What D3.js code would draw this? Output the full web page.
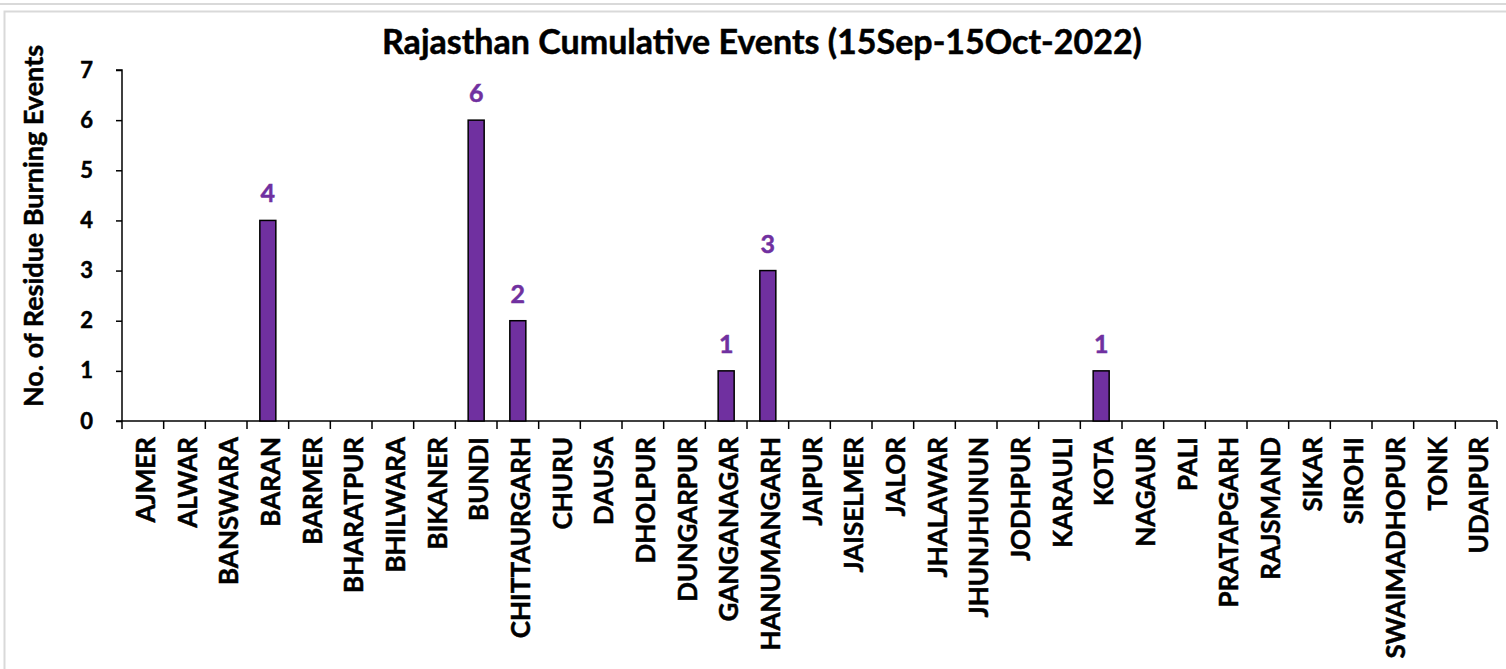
<!DOCTYPE html>
<html>
<head>
<meta charset="utf-8">
<script src="https://cdn.jsdelivr.net/npm/d3@7"></script>
<style>
  body { margin: 0; background: #fff; }
  svg { display: block; font-family: Lato, "Open Sans", sans-serif; font-weight: bold; }
  text { stroke-width: 0.5px; }
</style>
</head>
<body>
<div id="chart"></div>
<script>
const districts = ["AJMER", "ALWAR", "BANSWARA", "BARAN", "BARMER", "BHARATPUR", "BHILWARA",
  "BIKANER", "BUNDI", "CHITTAURGARH", "CHURU", "DAUSA", "DHOLPUR", "DUNGARPUR", "GANGANAGAR",
  "HANUMANGARH", "JAIPUR", "JAISELMER", "JALOR", "JHALAWAR", "JHUNJHUNUN", "JODHPUR", "KARAULI",
  "KOTA", "NAGAUR", "PALI", "PRATAPGARH", "RAJSMAND", "SIKAR", "SIROHI", "SWAIMADHOPUR", "TONK", "UDAIPUR"];
const events = [0, 0, 0, 4, 0, 0, 0, 0, 6, 2, 0, 0, 0, 0, 1, 3, 0, 0, 0, 0, 0, 0, 0, 1, 0, 0, 0, 0, 0, 0, 0, 0, 0];
const yTicks = [0, 1, 2, 3, 4, 5, 6, 7];

const width = 1506, height = 669;
const plotLeft = 122, plotRight = 1497, plotTop = 70, plotBottom = 421;

const svg = d3.select("#chart").append("svg")
  .attr("width", width)
  .attr("height", height);

// grey frame of the original sheet
svg.append("line").attr("x1", 0).attr("x2", width).attr("y1", 4).attr("y2", 4)
  .attr("stroke", "#d9d9d9").attr("stroke-width", 2);
svg.append("path").attr("d", `M4.5,${height} V11.5 H${width}`)
  .attr("fill", "none").attr("stroke", "#d9d9d9").attr("stroke-width", 2);

const x = d3.scaleBand().domain(districts).range([plotLeft, plotRight]);
const y = d3.scaleLinear().domain([0, 7]).range([plotBottom, plotTop]);

// y axis
const yAxis = svg.append("g")
  .attr("transform", `translate(${plotLeft},0)`)
  .call(d3.axisLeft(y).tickValues(yTicks).tickFormat(d3.format("d")).tickSize(6).tickPadding(23));
yAxis.select(".domain").attr("stroke", "#000").attr("stroke-width", 1.5).attr("d", `M-6,${plotTop}H0V${plotBottom}`);
yAxis.selectAll(".tick line").attr("stroke", "#000").attr("stroke-width", 1.5);
yAxis.selectAll(".tick text")
  .attr("font-size", 22).attr("fill", "#000").attr("stroke", "#000")
  .attr("font-family", "Lato, sans-serif");

// x axis (ticks on category boundaries)
const xAxis = svg.append("g").attr("transform", `translate(0,${plotBottom})`);
xAxis.append("line").attr("x1", plotLeft - 6).attr("x2", plotRight).attr("stroke", "#000").attr("stroke-width", 1.5);
xAxis.selectAll(".bound")
  .data(districts.map(d => x(d)).concat([plotRight]))
  .enter().append("line")
  .attr("x1", d => d).attr("x2", d => d)
  .attr("y1", 0).attr("y2", 8)
  .attr("stroke", "#000").attr("stroke-width", 1.5);
xAxis.selectAll(".lab")
  .data(districts)
  .enter().append("text")
  .attr("transform", d => `translate(${x(d) + x.bandwidth() / 2 + 12},16) rotate(-90)`)
  .attr("text-anchor", "end")
  .attr("font-size", 26)
  .attr("fill", "#000")
  .attr("stroke", "#000")
  .text(d => d);

// bars
const barW = 16;
const rows = districts.map((d, i) => ({ name: d, value: events[i] }));
svg.selectAll(".bar")
  .data(rows.filter(d => d.value > 0))
  .enter().append("rect")
  .attr("x", d => x(d.name) + x.bandwidth() / 2 - barW / 2)
  .attr("y", d => y(d.value))
  .attr("width", barW)
  .attr("height", d => y(0) - y(d.value))
  .attr("fill", "#7030a0")
  .attr("stroke", "#000")
  .attr("stroke-width", 1.5);

svg.selectAll(".val")
  .data(rows.filter(d => d.value > 0))
  .enter().append("text")
  .attr("x", d => x(d.name) + x.bandwidth() / 2)
  .attr("y", d => y(d.value) - 18)
  .attr("text-anchor", "middle")
  .attr("font-size", 25)
  .attr("fill", "#7030a0")
  .attr("stroke", "#7030a0")
  .text(d => d.value);

// titles
svg.append("text")
  .attr("x", 762).attr("y", 54)
  .attr("text-anchor", "middle")
  .attr("font-size", 34)
  .attr("fill", "#000")
  .attr("stroke", "#000")
  .text("Rajasthan Cumulative Events (15Sep-15Oct-2022)");

svg.append("text")
  .attr("transform", `translate(43,226) rotate(-90)`)
  .attr("text-anchor", "middle")
  .attr("font-size", 27)
  .attr("fill", "#000")
  .attr("stroke", "#000")
  .text("No. of Residue Burning Events");
</script>
</body>
</html>
